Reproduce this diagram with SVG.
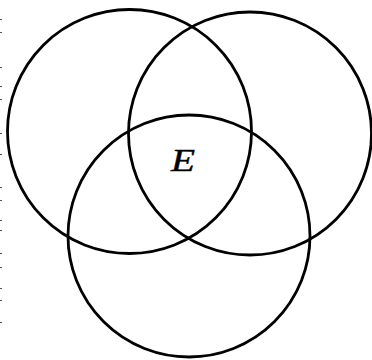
<svg xmlns="http://www.w3.org/2000/svg" width="372" height="360" viewBox="0 0 372 360">
<style>
.c{fill:none;stroke:#000;stroke-width:2.8}
.t{font-family:"Liberation Serif",serif;font-style:italic;font-size:31px;fill:#000;stroke:#000;stroke-width:0.4}
.d{fill:#555}
</style>
<rect width="372" height="360" fill="#fff"/>
<g id="left"><circle class="c" cx="129.5" cy="131.5" r="122"/></g>
<g id="right"><circle class="c" cx="250" cy="133.5" r="121.5"/></g>
<g id="bottom"><circle class="c" cx="189" cy="236" r="121"/></g>
<g id="label"><text class="t" x="171" y="171" textLength="24" lengthAdjust="spacingAndGlyphs">E</text></g>
<g id="marks">
<rect class="d" x="0" y="19" width="2" height="1"/>
<rect class="d" x="0" y="32" width="2" height="1"/>
<rect class="d" x="0" y="67" width="2" height="1"/>
<rect class="d" x="0" y="86" width="2" height="1"/>
<rect class="d" x="0" y="99" width="2" height="1"/>
<rect class="d" x="0" y="133" width="2" height="1"/>
<rect class="d" x="0" y="154" width="2" height="1"/>
<rect class="d" x="0" y="187" width="2" height="1"/>
<rect class="d" x="0" y="200" width="2" height="1"/>
<rect class="d" x="0" y="220" width="2" height="1"/>
<rect class="d" x="0" y="230" width="2" height="1"/>
<rect class="d" x="0" y="253" width="2" height="1"/>
<rect class="d" x="0" y="267" width="2" height="1"/>
<rect class="d" x="0" y="288" width="2" height="1"/>
<rect class="d" x="0" y="300" width="2" height="1"/>
<rect class="d" x="0" y="322" width="2" height="1"/>
</g>
</svg>
